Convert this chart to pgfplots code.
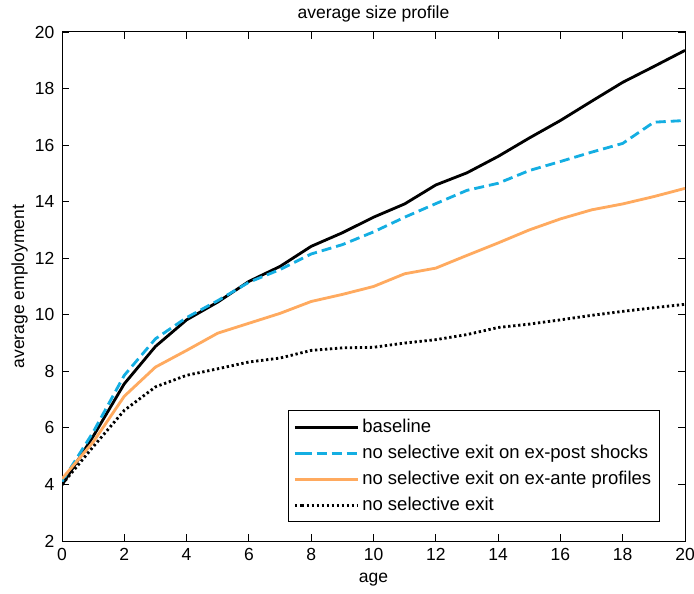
\documentclass[border=0pt]{standalone}
\usepackage{pgfplots}
\pgfplotsset{compat=1.18}
\usepackage{fontspec}
\setmainfont{Liberation Sans}
\definecolor{cblue}{RGB}{20,174,226}
\definecolor{corange}{RGB}{255,170,95}
\begin{document}
\begin{tikzpicture}[font=\fontsize{10.5}{12}\selectfont]
\useasboundingbox (-37.2pt,-31.2pt) rectangle (379.2pt,324.6pt);
\begin{axis}[
  at={(0,0)}, anchor=south west,
  scale only axis, width=373.8pt, height=305.4pt,
  xmin=0, xmax=20, ymin=2, ymax=20,
  xtick={0,2,...,20}, ytick={2,4,...,20},
  tick align=inside, tick pos=both,
  major tick length=4pt,
  axis line style={line width=0.6pt},
  every tick/.style={black, line width=0.5pt},
  /pgf/number format/assume math mode=true,
  tick label style={font=\fontsize{10.5}{12}\selectfont},
  xticklabel style={yshift=-1pt},
  yticklabel style={xshift=-1pt},
  xlabel={age}, ylabel={average employment},
  xlabel style={yshift=-0.5pt},
  ylabel style={yshift=-2.5pt},
  title={average size profile},
  title style={yshift=-3.4pt},
  legend style={at={(rel axis cs:0.96,0.037)}, anchor=south east,
    draw=black, line width=0.6pt, font=\fontsize{11.1}{12}\selectfont,
    row sep=2.1pt, inner xsep=3pt, inner ysep=3pt},
  legend cell align=left,
  legend image code/.code={\draw[#1] (4pt,0pt) -- (37.6pt,0pt); \path (0pt,0pt) -- (4pt,0pt);},
]
\addplot[black, line width=1.7pt] coordinates {
(0,3.98)(1,5.7)(2,7.56)(3,8.88)(4,9.82)(5,10.45)(6,11.18)(7,11.71)(8,12.42)(9,12.9)(10,13.45)(11,13.92)(12,14.59)(13,15.02)(14,15.6)(15,16.25)(16,16.87)(17,17.55)(18,18.22)(19,18.78)(20,19.35)};
\addlegendentry{baseline}
\addplot[cblue, line width=1.7pt, dash pattern=on 6pt off 3pt] coordinates {
(0,4.1)(1,5.85)(2,7.86)(3,9.15)(4,9.9)(5,10.5)(6,11.15)(7,11.6)(8,12.15)(9,12.48)(10,12.93)(11,13.45)(12,13.93)(13,14.4)(14,14.65)(15,15.1)(16,15.42)(17,15.75)(18,16.06)(19,16.81)(20,16.87)};
\addlegendentry{no selective exit on ex-post shocks}
\addplot[corange, line width=1.7pt] coordinates {
(0,4.2)(1,5.5)(2,7.12)(3,8.15)(4,8.74)(5,9.35)(6,9.7)(7,10.05)(8,10.47)(9,10.72)(10,11.0)(11,11.45)(12,11.65)(13,12.1)(14,12.54)(15,13.0)(16,13.39)(17,13.71)(18,13.92)(19,14.18)(20,14.47)};
\addlegendentry{no selective exit on ex-ante profiles}
\addplot[black, line width=1.7pt, dash pattern=on 1.4pt off 1.6pt] coordinates {
(0,4.0)(1,5.33)(2,6.62)(3,7.45)(4,7.86)(5,8.09)(6,8.33)(7,8.47)(8,8.74)(9,8.83)(10,8.85)(11,9.0)(12,9.12)(13,9.3)(14,9.55)(15,9.67)(16,9.82)(17,9.98)(18,10.12)(19,10.25)(20,10.37)};
\addlegendentry{no selective exit}
\end{axis}
\end{tikzpicture}
\end{document}
